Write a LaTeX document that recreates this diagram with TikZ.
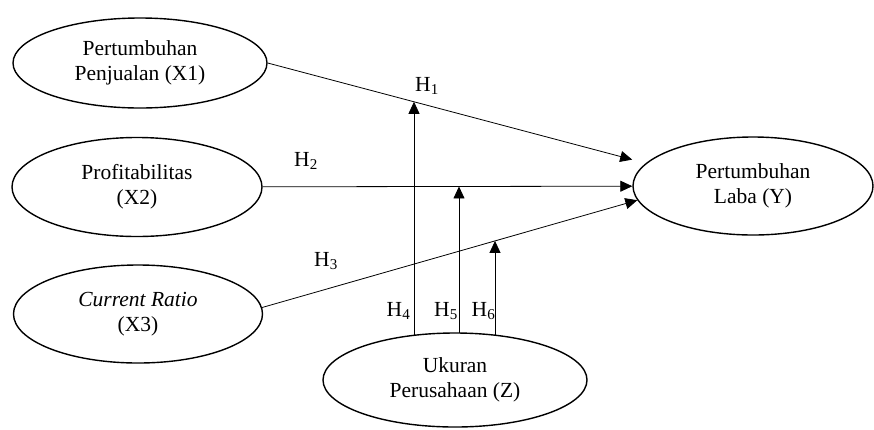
\documentclass[tikz,border=0pt]{standalone}
\usepackage{fontspec}
\setmainfont{Liberation Serif}
\usetikzlibrary{shapes.geometric,arrows.meta,intersections}

\tikzset{
	var/.style={draw, ellipse, line width=1.4pt, inner sep=0pt, align=center, fill=white, font=\fontsize{21.5}{25}\selectfont},
	arr/.style={-{Triangle[length=12pt,width=11pt]}, line width=0.8pt},
	hlab/.style={inner sep=0pt, font=\fontsize{21.5}{25}\selectfont}
}

\begin{document}
\begin{tikzpicture}[x=1pt,y=-1pt]
		%%%%% START %%%%%
		\useasboundingbox (0,0) rectangle (874,429);
		
		\node[var, minimum width=254pt, minimum height=90pt] (x1) at (140,63) {Pertumbuhan\\Penjualan (X1)};
		\node[var, minimum width=250pt, minimum height=99pt] (x2) at (137,187) {Profitabilitas\\(X2)};
		\node[var, minimum width=249pt, minimum height=98pt] (x3) at (138,314) {\textit{Current Ratio}\\(X3)};
		\node[var, minimum width=240pt, minimum height=98pt] (y) at (753,186) {Pertumbuhan\\Laba (Y)};
		
		\draw[arr, shorten >=14pt, name path=p1] (x1.east) -- (y.168);
		\draw[arr, name path=p2] (x2) -- (y);
		\draw[arr, name path=p3] (x3.3) -- (y.187);
		
		\coordinate (zc) at (455,380);
		\path[name path=v4] (414,0) -- (414,429);
		\path[name path=v5] (459,0) -- (459,429);
		\path[name path=v6] (495,0) -- (495,429);
		\path[name intersections={of=p1 and v4, by=t4}];
		\path[name intersections={of=p2 and v5, by=t5}];
		\path[name intersections={of=p3 and v6, by=t6}];
		\draw[arr] (t4 |- zc) -- (t4);
		\draw[arr] (t5 |- zc) -- (t5);
		\draw[arr] (t6 |- zc) -- (t6);
		
		\node[var, minimum width=264pt, minimum height=94pt] (z) at (zc) {Ukuran\\Perusahaan (Z)};
		
		\node[hlab] (h1) at (427,86) {H\textsubscript{1}};
		\node[hlab] (h2) at (306,161) {H\textsubscript{2}};
		\node[hlab] (h3) at (326,261) {H\textsubscript{3}};
		\node[hlab] (h4) at (398.5,311) {H\textsubscript{4}};
		\node[hlab] (h5) at (446,311) {H\textsubscript{5}};
		\node[hlab] (h6) at (483.5,311) {H\textsubscript{6}};
		%%%%% END %%%%%
\end{tikzpicture}
\end{document}
